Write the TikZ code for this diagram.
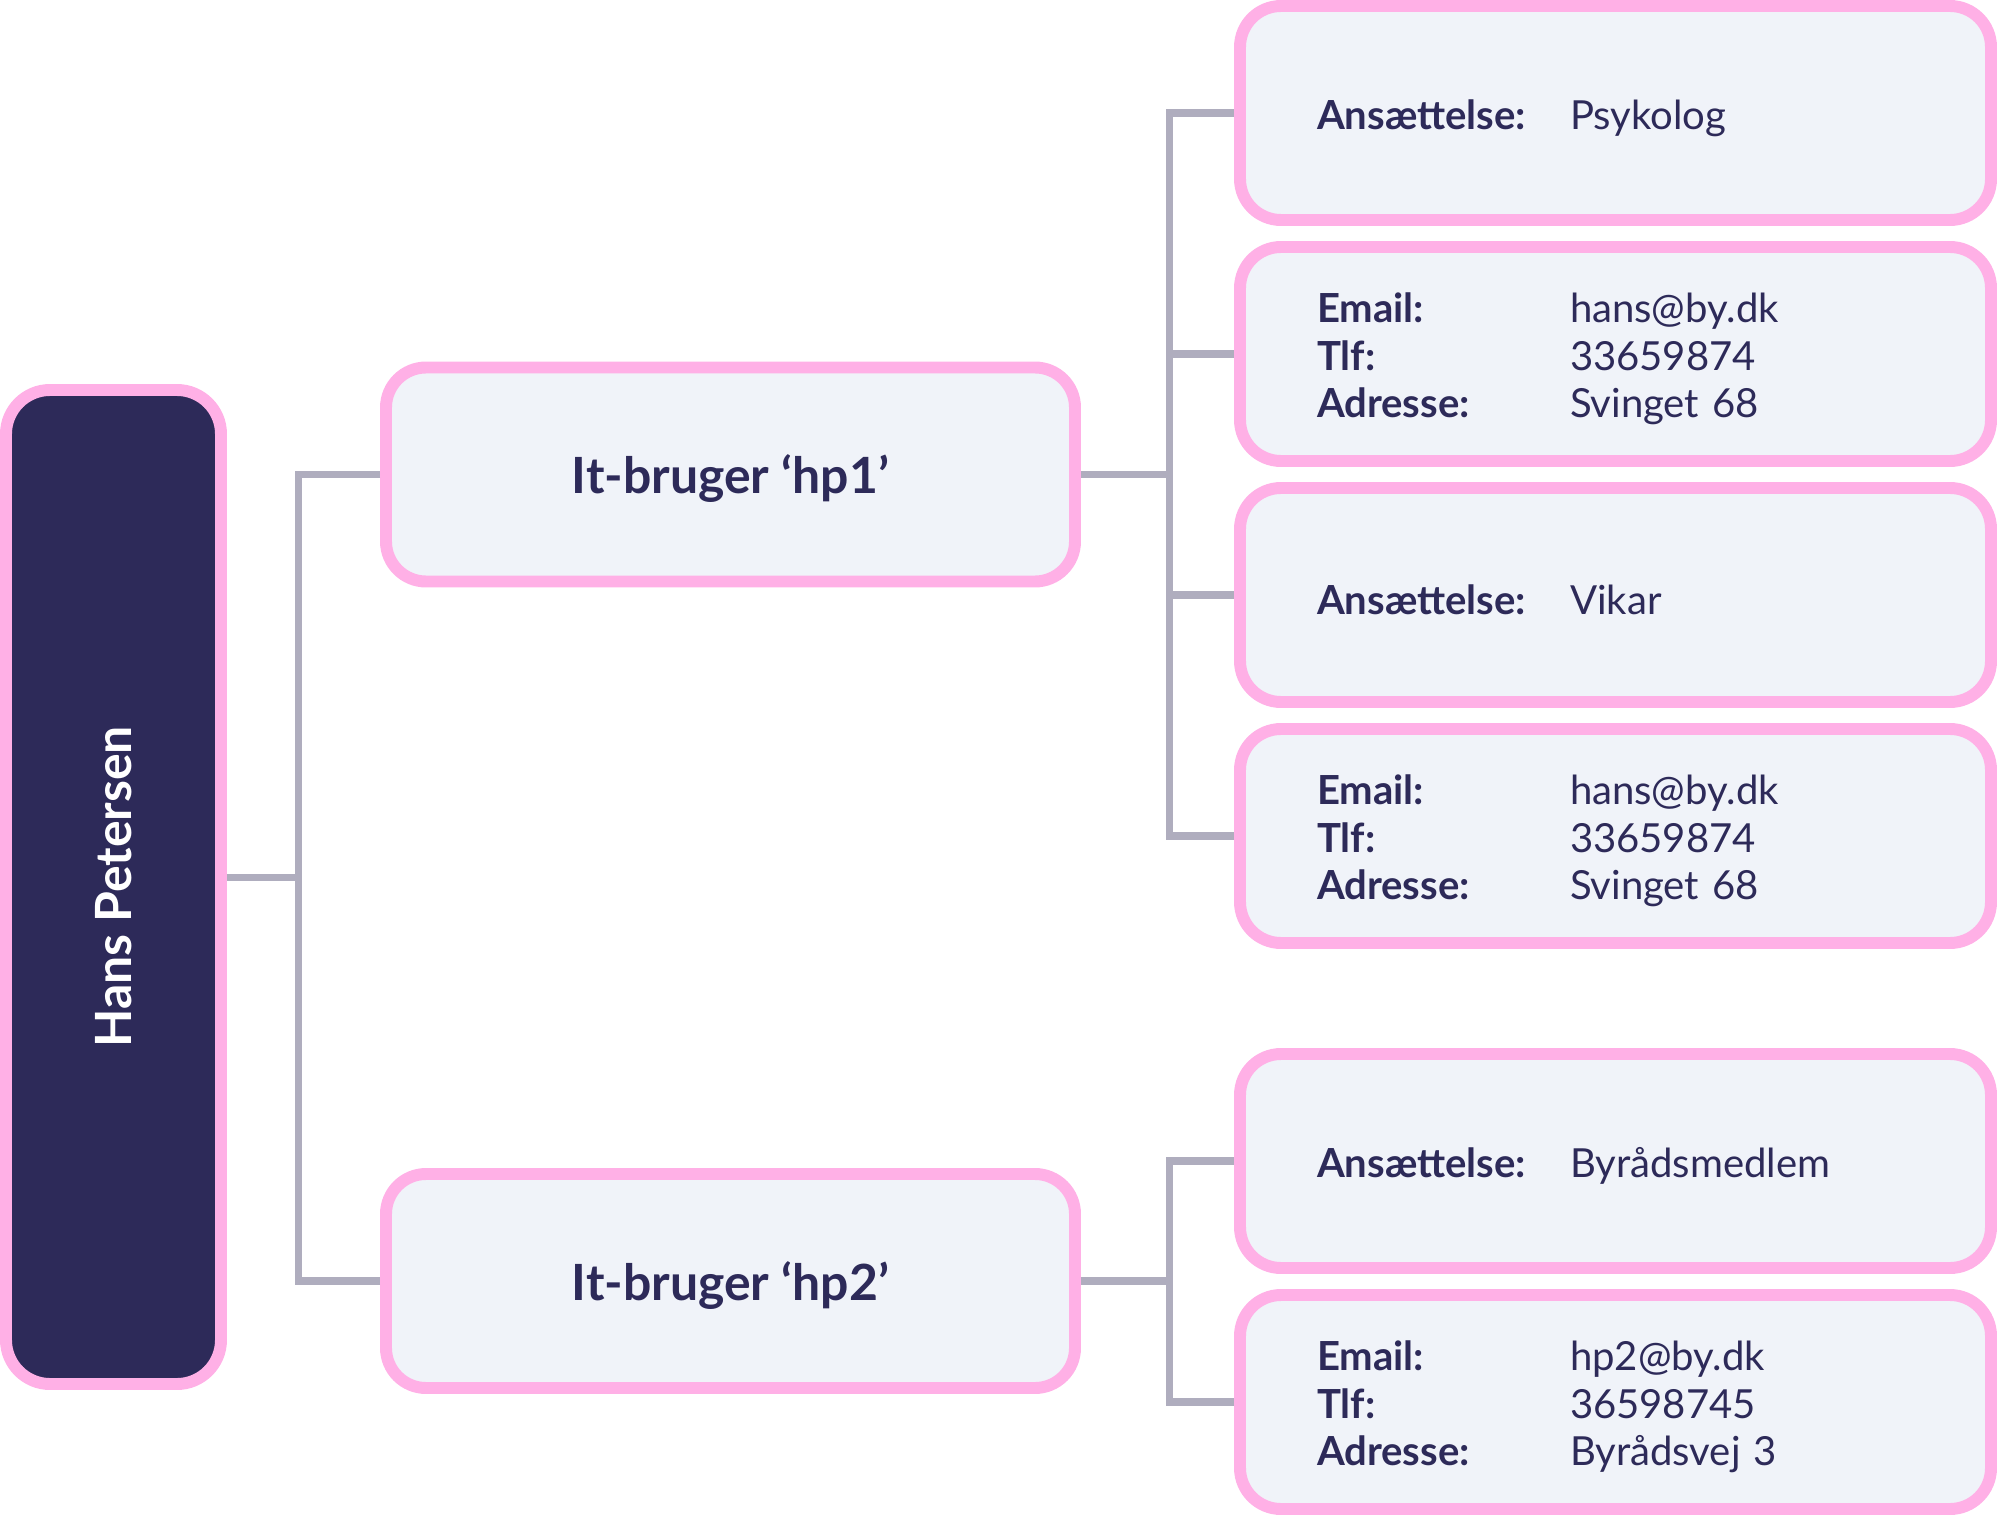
\documentclass[tikz,border=0pt]{standalone}
\usepackage{fontspec}
\setmainfont{Lato}
\usetikzlibrary{positioning}
\definecolor{navy}{HTML}{2D2A59}
\definecolor{pinkline}{HTML}{FFB0E6}
\definecolor{pale}{HTML}{F0F3F9}
\definecolor{linegray}{HTML}{AFADBE}
\newcommand{\field}[2]{\makebox[25.3mm][l]{\bfseries #1}#2}

\begin{document}
\begin{tikzpicture}[every node/.style={text=navy},
  person/.style={rounded corners=4.4mm,draw=pinkline,line width=3.4pt,fill=navy,minimum width=21.5mm,minimum height=99.4mm,text=white,font=\fontsize{14.2}{17}\selectfont\bfseries},
  user/.style={rounded corners=4mm,draw=pinkline,line width=3.4pt,fill=pale,minimum width=68.9mm,minimum height=21.4mm,text depth=0pt,font=\fontsize{14.2}{17}\selectfont\bfseries},
  info/.style={rounded corners=4.1mm,draw=pinkline,line width=3.4pt,fill=pale,minimum height=21.4mm,inner xsep=7.7mm,text width=59.7mm,align=left,font=\fontsize{11.4}{13.5}\selectfont,execute at begin node={\rule{0pt}{4mm}}},
  link/.style={draw=linegray,line width=2pt}]
  \useasboundingbox (0,0) rectangle (20,-15.16);
  % person and it-users
  \node[person] (hans) at (1.135,-8.87) {\rotatebox{90}{Hans Petersen}};
  \node[user] (hp1) at (7.305,-4.745) {It-bruger ‘hp1’};
  \node[user] (hp2) at (7.305,-12.81) {It-bruger ‘hp2’};
  % details
  \node[info] (ans1) at (16.155,-1.13) {\field{Ansættelse:}{Psykolog}};
  \node[info] (kon1) at (16.155,-3.54) {\field{Email:}{hans@by.dk}\\\field{Tlf:}{33659874}\\\field{Adresse:}{Svinget 68}};
  \node[info] (ans2) at (16.155,-5.95) {\field{Ansættelse:}{Vikar}};
  \node[info] (kon2) at (16.155,-8.36) {\field{Email:}{hans@by.dk}\\\field{Tlf:}{33659874}\\\field{Adresse:}{Svinget 68}};
  \node[info] (ans3) at (16.155,-11.61) {\field{Ansættelse:}{Byrådsmedlem}};
  \node[info] (kon3) at (16.155,-14.02) {\field{Email:}{hp2@by.dk}\\\field{Tlf:}{36598745}\\\field{Adresse:}{Byrådsvej 3}};
  % tree lines
  \coordinate (jhans) at (2.985,-8.7775);
  \coordinate (j1) at (11.695,-4.745);
  \coordinate (j2) at (11.695,-12.81);
  \draw[link] (hans.east |- jhans) -- (jhans);
  \draw[link] (hp1.west) -| (jhans);
  \draw[link] (hp2.west) -| (jhans);
  \draw[link] (hp1.east) -- (j1);
  \draw[link] (ans1.west) -| (j1);
  \draw[link] (kon1.west) -| (j1);
  \draw[link] (ans2.west) -| (j1);
  \draw[link] (kon2.west) -| (j1);
  \draw[link] (hp2.east) -- (j2);
  \draw[link] (ans3.west) -| (j2);
  \draw[link] (kon3.west) -| (j2);
\end{tikzpicture}
\end{document}
